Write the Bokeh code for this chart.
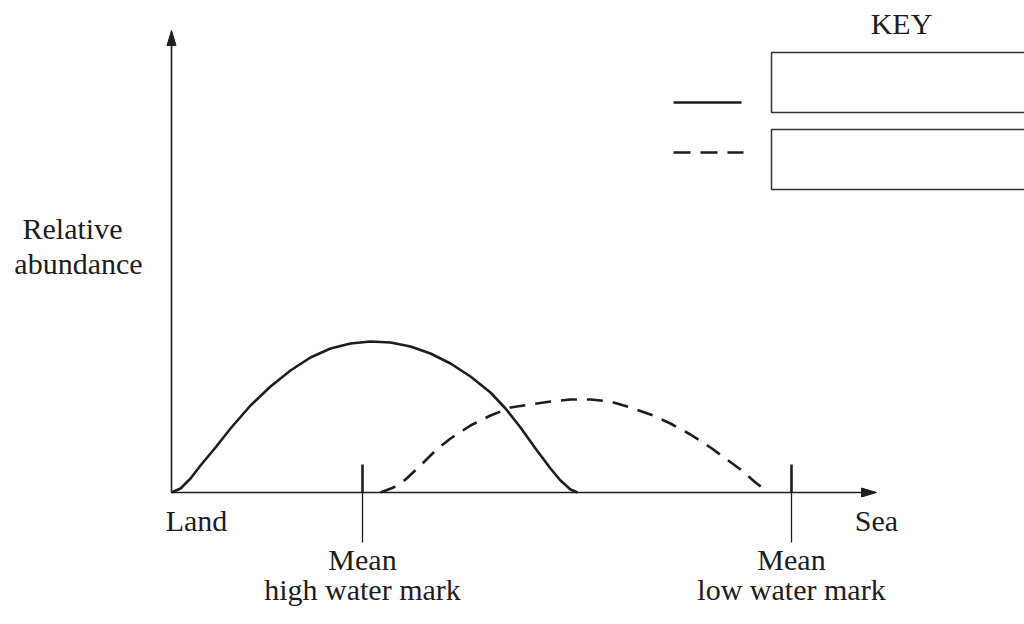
from bokeh.plotting import figure
from bokeh.models import Range1d, ColumnDataSource
from bokeh.core.properties import value
from bokeh.embed import file_html
from bokeh.resources import INLINE

# ---- data (shore position from land, relative abundance) ----
species_a_x = [0, 9, 19, 29, 44, 59, 79, 99, 119, 139, 159, 179, 199, 219, 239,
               259, 279, 299, 319, 334, 349, 364, 379, 389, 399, 406]
species_a_y = [0, 4, 14, 27, 45, 64, 87, 106, 122, 135, 144, 149, 151, 150, 146,
               139, 129, 116, 100, 84, 65, 44, 24, 12, 3, 0]
species_b_x = [209, 222, 234, 249, 264, 279, 299, 319, 339, 359, 379, 399, 419,
               439, 459, 479, 499, 519, 539, 554, 569, 584, 597]
species_b_y = [0, 5, 13, 27, 42, 54, 67, 77, 85, 88, 91, 93, 93,
               91, 85, 78, 69, 58, 45, 34, 23, 10, 0]
mark_names = ["high water mark", "low water mark"]
mark_x = [191, 620]
axis_x_end = 705
axis_y_end = 462
x_labels = ["Land", "Sea"]
y_label = ["Relative", "abundance"]
key_title = "KEY"

FONT = value("Liberation Serif")
FS = "30px"
INK = "#1e1c1d"

p = figure(width=1024, height=624, output_backend="svg", toolbar_location=None,
           x_range=Range1d(-171, 853), y_range=Range1d(-132, 492),
           min_border=0)
p.axis.visible = False
p.grid.visible = False
p.outline_line_color = None
p.background_fill_color = "white"
p.border_fill_color = "white"

# axes
p.segment(x0=[0, 0], y0=[0, 0], x1=[axis_x_end - 10, 0], y1=[0, axis_y_end - 10],
          line_color=INK, line_width=1.6)
head_len, head_w = 15, 4.5
p.patches(xs=[[axis_x_end, axis_x_end - head_len, axis_x_end - head_len],
              [0, -head_w, head_w]],
          ys=[[0, head_w, -head_w],
              [axis_y_end, axis_y_end - head_len, axis_y_end - head_len]],
          fill_color=INK, line_color=INK, line_width=1)

# water mark ticks
p.segment(x0=mark_x, y0=[0] * 2, x1=mark_x, y1=[28] * 2, line_color=INK, line_width=2.6)
p.segment(x0=mark_x, y0=[-50] * 2, x1=mark_x, y1=[0] * 2, line_color=INK, line_width=1.3)

# curves
p.line(species_a_x, species_a_y, line_color=INK, line_width=2.6, line_join="round")
p.line(species_b_x, species_b_y, line_color=INK, line_width=2.6, line_dash="16 10")

# key
p.quad(left=[600, 600], right=[870, 870], bottom=[380, 303], top=[440, 363],
       fill_color=None, line_color="#333333", line_width=1.5)
p.line([502, 570], [390, 390], line_color=INK, line_width=2.6)
p.line([502, 572], [340, 340], line_color=INK, line_width=2.6, line_dash="17 10")

labels = ColumnDataSource(dict(
    x=[730, -99, -93, 25, 705, mark_x[0], mark_x[0], mark_x[1], mark_x[1]],
    y=[469, 264, 229, -28, -28, -67, -97, -67, -97],
    text=[key_title, y_label[0], y_label[1], x_labels[0], x_labels[1],
          "Mean", mark_names[0], "Mean", mark_names[1]],
))
p.text(x="x", y="y", text="text", source=labels, text_font=FONT, text_font_size=FS,
       text_align="center", text_baseline="alphabetic", text_color=INK)

open("out.html", "w").write(file_html(p, INLINE))
